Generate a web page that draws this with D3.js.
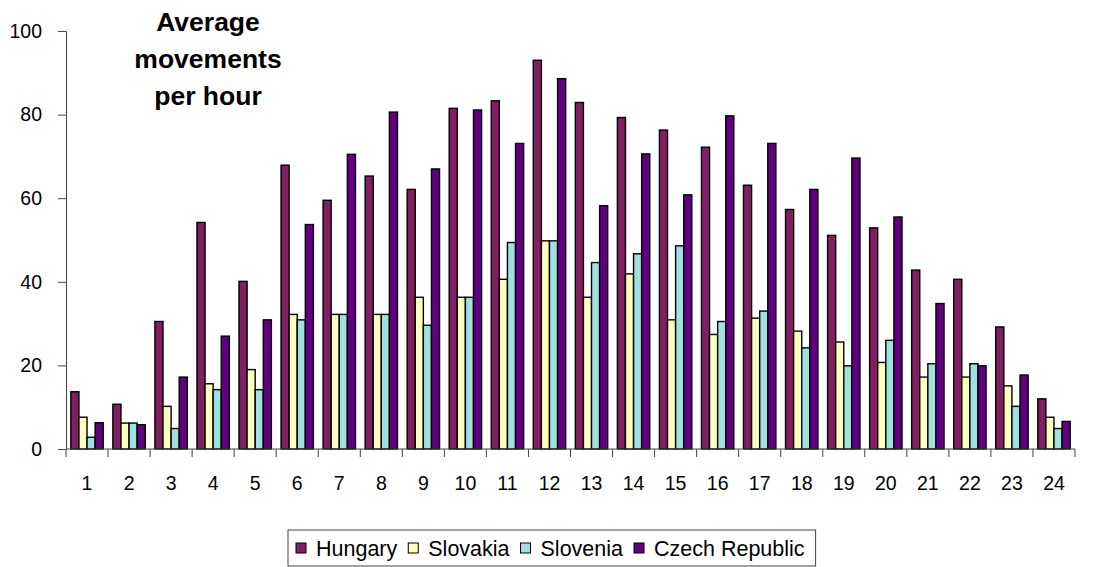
<!DOCTYPE html>
<html><head><meta charset="utf-8">
<script src="https://cdn.jsdelivr.net/npm/d3@7"></script>
<style>body{margin:0;background:#fff;} svg{display:block;}</style>
</head><body>
<script>
const hours = d3.range(1, 25).map(String);
const seriesNames = ["Hungary", "Slovakia", "Slovenia", "Czech Republic"];
const colors = ["#802060", "#ffffc0", "#a0e0e0", "#600080"];
const hungary  = [13.7,10.7,30.5,54.2,40.1,67.9,59.5,65.3,62.1,81.5,83.3,93.0,82.9,79.3,76.3,72.2,63.1,57.3,51.1,52.9,42.8,40.6,29.2,12.0];
const slovakia = [7.6,6.2,10.2,15.6,19.0,32.2,32.2,32.2,36.3,36.3,40.6,49.8,36.3,41.9,30.9,27.4,31.3,28.2,25.6,20.7,17.2,17.2,15.1,7.6];
const slovenia = [2.8,6.2,4.9,14.2,14.2,30.9,32.2,32.2,29.6,36.3,49.4,49.8,44.6,46.7,48.6,30.5,33.0,24.2,19.9,26.0,20.4,20.4,10.2,4.9];
const czech    = [6.3,5.8,17.2,27.0,30.9,53.7,70.5,80.6,67.0,81.1,73.1,88.6,58.2,70.6,60.8,79.7,73.1,62.1,69.6,55.5,34.8,19.9,17.7,6.6];
const yTicks = [0, 20, 40, 60, 80, 100];
const titleLines = ["Average", "movements", "per hour"];

const seriesValues = [hungary, slovakia, slovenia, czech];
const W = 1095, H = 567;
const FONT = "'Liberation Sans', Arial, sans-serif";
const svg = d3.select("body").append("svg").attr("width", W).attr("height", H)
  .style("font-family", FONT);

const x0 = d3.scaleBand().domain(hours).range([66, 1075]).paddingInner(0.23).paddingOuter(0.115);
const x1 = d3.scaleBand().domain(seriesNames).range([0, x0.bandwidth()]).padding(0);
const y = d3.scaleLinear().domain([0, 100]).range([449, 31]);

// bars
const groups = svg.append("g").selectAll("g").data(hours).join("g")
  .attr("transform", d => `translate(${x0(d)},0)`);
groups.selectAll("rect")
  .data((h, i) => seriesNames.map((s, k) => ({s, k, v: seriesValues[k][i]})))
  .join("rect")
  .attr("x", d => x1(d.s))
  .attr("y", d => y(d.v))
  .attr("width", x1.bandwidth())
  .attr("height", d => y(0) - y(d.v))
  .attr("fill", d => colors[d.k])
  .attr("stroke", "#000").attr("stroke-width", 1.4);

// y axis
const yAxis = svg.append("g").attr("transform", "translate(66,0)")
  .call(d3.axisLeft(y).tickValues(yTicks).tickSize(8).tickPadding(16));
yAxis.select(".domain").attr("stroke", "#444");
yAxis.selectAll(".tick line").attr("stroke", "#444");
yAxis.selectAll("text").attr("font-size", 19.5).attr("fill", "#000")
  .style("font-family", FONT);

// x axis: ticks at band boundaries
const xAxisG = svg.append("g").attr("transform", `translate(0,${y(0)})`);
xAxisG.append("line").attr("x1", 66).attr("x2", 1075).attr("stroke", "#444");
const step = x0.step();
const bounds = hours.map(h => x0(h) - x0.paddingOuter() * step).concat([1075]);
xAxisG.selectAll("line.tk").data(bounds).join("line").attr("class", "tk")
  .attr("x1", d => d).attr("x2", d => d).attr("y1", 0).attr("y2", 8).attr("stroke", "#444");
xAxisG.selectAll("text").data(hours).join("text")
  .attr("x", d => x0(d) + x0.bandwidth() / 2)
  .attr("y", 41)
  .attr("text-anchor", "middle").attr("font-size", 19.5).text(d => d);

// title
svg.append("text").attr("text-anchor", "middle").attr("font-weight", "bold").attr("font-size", 26.5)
  .selectAll("tspan").data(titleLines).join("tspan")
  .attr("x", 208).attr("y", (d, i) => 31 + i * 37).text(d => d);

// legend
const lg = svg.append("g");
const box = lg.append("rect").attr("x", 288).attr("y", 530).attr("height", 36)
  .attr("fill", "#fff").attr("stroke", "#444").attr("stroke-width", 1);
let cx = 296;
seriesNames.forEach((s, k) => {
  lg.append("rect").attr("x", cx).attr("y", 543).attr("width", 10).attr("height", 10)
    .attr("fill", colors[k]).attr("stroke", "#000").attr("stroke-width", 1);
  const t = lg.append("text").attr("x", cx + 20).attr("y", 556).attr("font-size", 21.5).text(s);
  cx += 20 + t.node().getComputedTextLength() + 11;
});
box.attr("width", cx - 288);
</script>
</body></html>
